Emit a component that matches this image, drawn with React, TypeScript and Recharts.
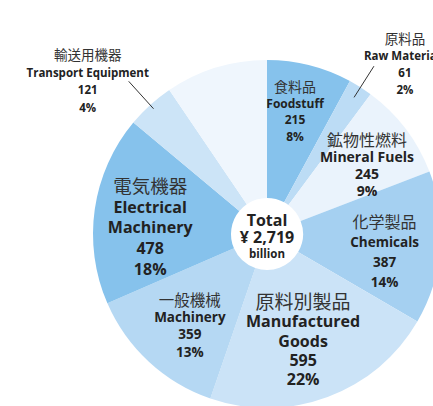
import { PieChart, Pie, Cell } from 'recharts';

const names = ['Foodstuff', 'Raw Materials', 'Mineral Fuels', 'Chemicals', 'Manufactured Goods', 'Machinery', 'Electrical Machinery', 'Transport Equipment', 'Others'];
const namesJa = ['食料品', '原料品', '鉱物性燃料', '化学製品', '原料別製品', '一般機械', '電気機器', '輸送用機器', ''];
const values = [215, 61, 245, 387, 595, 359, 478, 121, 258];
const shares = ['8%', '2%', '9%', '14%', '22%', '13%', '18%', '4%', ''];
const totalLabel = '¥ 2,719';

const colors = ['#86c2ec', '#bcdcf5', '#eaf3fc', '#a5d0f1', '#cbe3f7', '#b5d8f3', '#86c2ec', '#cce4f7', '#eff6fd'];

const data = names.map((name, i) => ({ name, ja: namesJa[i], value: values[i], share: shares[i] }));

const FONT = "'Open Sans', 'Noto Sans CJK JP', sans-serif";
const RAD = Math.PI / 180;

// label placement per slice: inside labels sit at radius r along the mid angle (plus a nudge),
// outside labels get a leader line and the text block is offset from its end
type Layout = {
  r?: number;
  nx?: number;
  ny?: number;
  jaSize: number;
  enSize: number;
  lh: number;
  wrap?: string[];
  outside?: { r0: number; r1: number; tx: number; ty: number };
};

const layouts: Layout[] = [
  { r: 118, nx: -1, ny: -8, jaSize: 14, enSize: 12, lh: 16.7 },
  { jaSize: 13.5, enSize: 11.5, lh: 17, outside: { r0: 162, r1: 199, tx: 31, ty: -2 } },
  { r: 118, nx: 6, ny: 2.5, jaSize: 16, enSize: 14, lh: 17 },
  { r: 118, nx: 0, ny: 8.5, jaSize: 16, enSize: 13.5, lh: 20 },
  { r: 118, nx: -5, ny: -4, jaSize: 19, enSize: 16, lh: 19.3, wrap: ['Manufactured', 'Goods'] },
  { r: 118, nx: 3, ny: 5, jaSize: 15.5, enSize: 13.5, lh: 17.3 },
  { r: 118, nx: 0, ny: 10, jaSize: 18.5, enSize: 16, lh: 20.7, wrap: ['Electrical', 'Machinery'] },
  { jaSize: 13.5, enSize: 11.5, lh: 17.3, outside: { r0: 169, r1: 206, tx: -41, ty: 0 } },
];

function polar(cx: number, cy: number, r: number, angle: number) {
  return { x: cx + r * Math.cos(-angle * RAD), y: cy + r * Math.sin(-angle * RAD) };
}

function renderLabel(props: any) {
  const { cx, cy, midAngle, index, payload } = props;
  const entry = payload && payload.payload ? payload.payload : payload;

  if (index === names.length - 1) {
    return (
      <g key="center">
        <text x={cx} y={cy - 14} textAnchor="middle" dominantBaseline="central" fontFamily={FONT} fontWeight={700} fontSize={16} fill="#222">Total</text>
        <text x={cx} y={cy + 3} textAnchor="middle" dominantBaseline="central" fontFamily={FONT} fontWeight={700} fontSize={16} fill="#222">{totalLabel}</text>
        <text x={cx} y={cy + 19} textAnchor="middle" dominantBaseline="central" fontFamily={FONT} fontWeight={700} fontSize={11.5} fill="#222">billion</text>
      </g>
    );
  }

  const lay = layouts[index];
  if (!lay) return null;

  let bx: number;
  let by: number;
  let line = null;
  if (lay.outside) {
    const p0 = polar(cx, cy, lay.outside.r0, midAngle);
    const p1 = polar(cx, cy, lay.outside.r1, midAngle);
    line = <line x1={p0.x} y1={p0.y} x2={p1.x} y2={p1.y} stroke="#333" strokeWidth={1} />;
    bx = p1.x + lay.outside.tx;
    by = p1.y + lay.outside.ty;
  } else {
    const p = polar(cx, cy, lay.r || 118, midAngle);
    bx = p.x + (lay.nx || 0);
    by = p.y + (lay.ny || 0);
  }

  const en = lay.wrap || [entry.name];
  const rows = [
    { t: entry.ja, ja: true },
    ...en.map((t: string) => ({ t, ja: false })),
    { t: String(entry.value), ja: false },
    { t: entry.share, ja: false },
  ];
  const top = by - ((rows.length - 1) * lay.lh) / 2;

  return (
    <g key={`lbl-${index}`}>
      {line}
      {rows.map((row, i) => (
        <text
          key={i}
          x={bx}
          y={top + i * lay.lh}
          textAnchor="middle"
          dominantBaseline="central"
          fontFamily={FONT}
          fontWeight={row.ja ? 400 : 700}
          fontSize={row.ja ? lay.jaSize : lay.enSize}
          fill={row.ja ? '#333' : '#222'}
        >
          {row.t}
        </text>
      ))}
    </g>
  );
}

export default function App() {
  return (
    <div style={{ position: 'absolute', left: 0, top: 0, width: 433, height: 406, background: '#fff' }}>
      <PieChart width={433} height={406}>
        <Pie
          data={data}
          dataKey="value"
          nameKey="name"
          cx={262}
          cy={229}
          innerRadius={36}
          outerRadius={174}
          startAngle={90}
          endAngle={-270}
          stroke="none"
          label={renderLabel}
          labelLine={false}
          isAnimationActive={false}
        >
          {data.map((d, i) => (
            <Cell key={d.name} fill={colors[i]} />
          ))}
        </Pie>
      </PieChart>
    </div>
  );
}
